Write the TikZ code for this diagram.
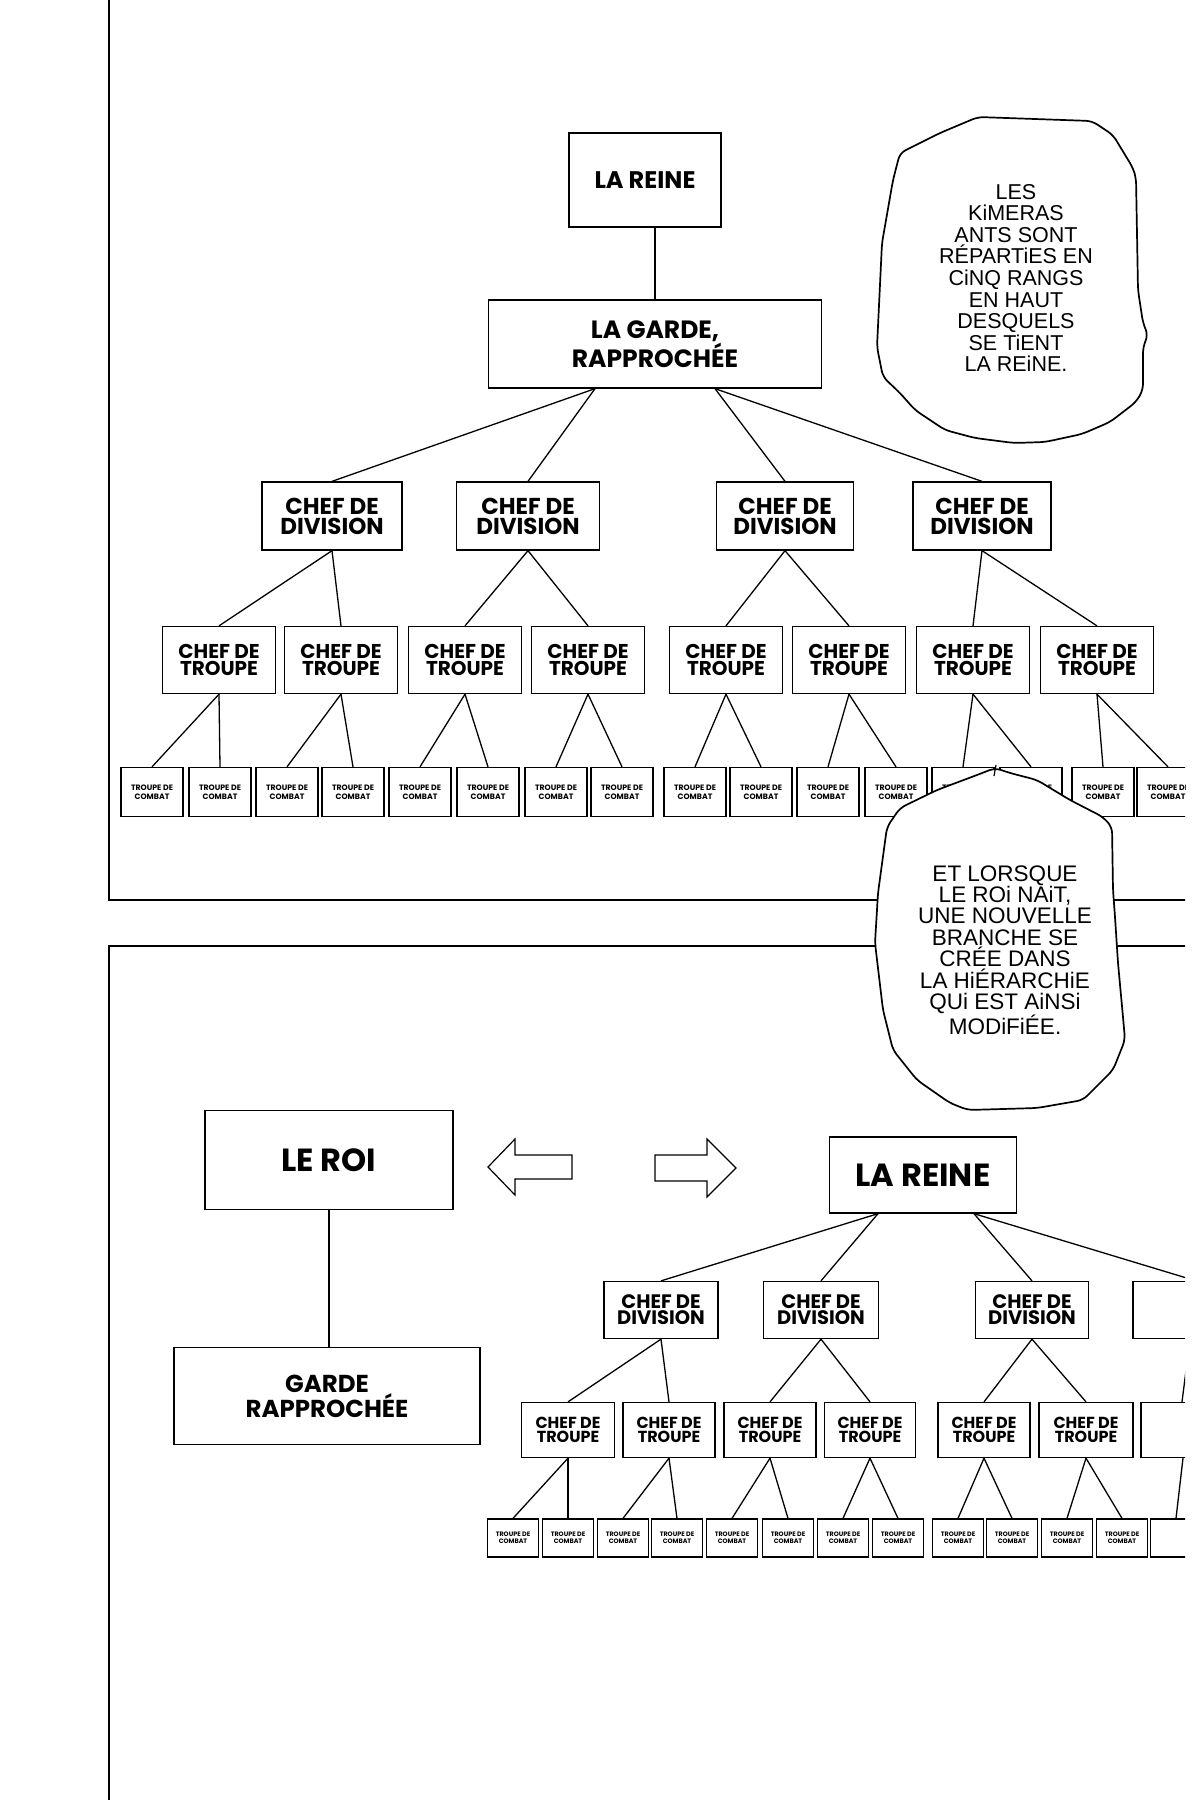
\documentclass[tikz,border=0pt]{standalone}
\usepackage{fontspec}
\setmainfont{Liberation Sans}
\newfontfamily\boxfont{Poppins}
\usetikzlibrary{calc}
\tikzset{
  bx/.style={draw, line width=1.3pt, fill=white, inner sep=0pt, align=center},
  sz/.style 2 args={minimum width=#1pt, minimum height=#2pt},
  link/.style={line width=1.3pt},
  frame/.style={line width=1.7pt},
  bubble/.style={draw, line width=1.7pt, fill=white, rounded corners=6pt},
  btextA/.style={align=center, inner sep=0pt, font=\fontsize{21.5}{21.6}\selectfont},
  btextB/.style={align=center, inner sep=0pt, font=\fontsize{22.5}{21.4}\selectfont},
  hollow/.style={draw, line width=1.2pt, fill=white},
  fA/.style={font=\boxfont\bfseries\fontsize{24}{22}\selectfont},
  fB/.style={font=\boxfont\bfseries\fontsize{25}{20.5}\selectfont},
  fC/.style={font=\boxfont\bfseries\fontsize{23}{20}\selectfont},
  fD/.style={font=\boxfont\bfseries\fontsize{20}{16.5}\selectfont},
  fE/.style={font=\boxfont\bfseries\fontsize{7.8}{8.5}\selectfont},
  gA/.style={font=\boxfont\bfseries\fontsize{32}{26}\selectfont},
  gB/.style={font=\boxfont\bfseries\fontsize{24.5}{20.5}\selectfont},
  gC/.style={font=\boxfont\bfseries\fontsize{19.5}{16}\selectfont},
  gD/.style={font=\boxfont\bfseries\fontsize{16}{13.5}\selectfont},
  gE/.style={font=\boxfont\bfseries\fontsize{6.4}{7}\selectfont},
}
\begin{document}
\begin{tikzpicture}[x=1pt,y=-1pt]
\useasboundingbox[fill=white] (0,0) rectangle (1200,1800);
\begin{scope}
\clip (0,-5) rectangle (1185,1805);
% panel frames
\draw[frame] (109,-5) -- (109,900) -- (1190,900);
\draw[frame] (1190,946) -- (109,946) -- (109,1805);

% ===== upper panel tree =====
\node[bx, sz={152}{94}, fA] (ureine) at (645,180) {LA REINE};
\node[bx, sz={333}{88}, fB] (ugarde) at (655,344) {LA GARDE,\\RAPPROCH\'EE};
\node[bx, sz={140}{68}, fC] (ud1) at (332,516) {CHEF DE\\DIVISION};
\node[bx, sz={143}{68}, fC] (ud2) at (528,516) {CHEF DE\\DIVISION};
\node[bx, sz={137}{68}, fC] (ud3) at (785,516) {CHEF DE\\DIVISION};
\node[bx, sz={138}{68}, fC] (ud4) at (982,516) {CHEF DE\\DIVISION};
\foreach \i/\x in {1/219,2/341,3/465,4/588,5/726,6/849,7/973,8/1097}
  \node[bx, sz={113}{67}, fD] (ut\i) at (\x,660) {CHEF DE\\TROUPE};
\foreach \i/\x in {1/152,2/220,3/287,4/353,5/420,6/488,7/556,8/622,9/695,10/761,11/828,12/896,13/963,14/1031,15/1103,16/1168}
  \node[bx, sz={62}{49}, fE] (uc\i) at (\x,792) {TROUPE DE\\COMBAT};

\draw[link] (ugarde.north |- ureine.south) -- (ugarde.north);
\draw[link] ([xshift=-60pt]ugarde.south) -- (ud1.north);
\draw[link] ([xshift=-60pt]ugarde.south) -- (ud2.north);
\draw[link] ([xshift=60pt]ugarde.south) -- (ud3.north);
\draw[link] ([xshift=60pt]ugarde.south) -- (ud4.north);
\foreach \d/\a/\b in {1/1/2,2/3/4,3/5/6,4/7/8}{
  \draw[link] (ud\d.south) -- (ut\a.north);
  \draw[link] (ud\d.south) -- (ut\b.north);}
\foreach \t/\a/\b in {1/1/2,2/3/4,3/5/6,4/7/8,5/9/10,6/11/12,7/13/14,8/15/16}{
  \draw[link] (ut\t.south) -- (uc\a.north);
  \draw[link] (ut\t.south) -- (uc\b.north);}

% ===== lower panel =====
\node[bx, sz={248}{99}, gA] (roi) at (329,1160) {LE ROI};
\node[bx, sz={306}{97}, gB] (lgarde) at (327,1396) {GARDE\\RAPPROCH\'EE};
\draw[link] (roi.south) -- (roi.south |- lgarde.north);

\draw[hollow] (488,1167) -- (515,1139) -- (515,1155) -- (572,1155) -- (572,1179) -- (515,1179) -- (515,1195) -- cycle;
\draw[hollow] (736,1168) -- (707,1139) -- (707,1155) -- (655,1155) -- (655,1181) -- (707,1181) -- (707,1197) -- cycle;

\node[bx, sz={187}{76}, gA] (lreine) at (923,1175) {LA REINE};
\node[bx, sz={114}{57}, gC] (ld1) at (661,1310) {CHEF DE\\DIVISION};
\node[bx, sz={115}{57}, gC] (ld2) at (821,1310) {CHEF DE\\DIVISION};
\node[bx, sz={113}{57}, gC] (ld3) at (1032,1310) {CHEF DE\\DIVISION};
\node[bx, sz={114}{57}] (ld4) at (1190,1310) {};
\foreach \i/\x/\w in {1/568/93,2/669/92,3/770/92,4/870/91,5/984/92,6/1086/94}
  \node[bx, sz={\w}{55}, gD] (lt\i) at (\x,1430) {CHEF DE\\TROUPE};
\node[bx, sz={94}{55}] (lt7) at (1188,1430) {};
\foreach \i/\x in {1/513,2/568,3/623,4/677,5/732,6/788,7/843,8/898,9/958,10/1012,11/1067,12/1122}
  \node[bx, sz={51}{38}, gE] (lc\i) at (\x,1538) {TROUPE DE\\COMBAT};
\node[bx, sz={51}{38}] (lc13) at (1176,1538) {};

\draw[link] ([xshift=-45pt]lreine.south) -- (ld1.north);
\draw[link] ([xshift=-45pt]lreine.south) -- (ld2.north);
\draw[link] ([xshift=51pt]lreine.south) -- (ld3.north);
\draw[link] ([xshift=51pt]lreine.south) -- ([xshift=6pt]ld4.north);
\foreach \d/\a/\b in {1/1/2,2/3/4,3/5/6}{
  \draw[link] (ld\d.south) -- (lt\a.north);
  \draw[link] (ld\d.south) -- (lt\b.north);}
\draw[link] (ld4.south) -- ([xshift=-6pt]lt7.north);
\foreach \t/\a/\b in {1/1/2,2/3/4,3/5/6,4/7/8,5/9/10,6/11/12}{
  \draw[link] (lt\t.south) -- (lc\a.north);
  \draw[link] (lt\t.south) -- (lc\b.north);}
\draw[link] ([xshift=-5pt]lt7.south) -- (lc13.north);

% ===== speech bubbles =====
\draw[bubble] (978,117) -- (1092,121) -- (1113,135) -- (1133,168) -- (1136,178) -- (1138,290) -- (1143,323) -- (1148,335) -- (1143,347) -- (1143,390) -- (1136,402) -- (1110,422) -- (1082,434) -- (1045,442) -- (1014,443) -- (975,438) -- (945,430) -- (915,410) -- (900,393) -- (883,377) -- (877,347) -- (882,243) -- (893,180) -- (900,153) -- (940,133) -- cycle;
\node[btextA] (say1) at (1016,278) {LES\\KiMERAS\\ANTS SONT\\R\'EPARTiES EN\\CiNQ RANGS\\EN HAUT\\DESQUELS\\SE TiENT\\LA REiNE.};

\draw[bubble] (995,768) -- (1010,773) -- (1037,780) -- (1070,800) -- (1103,817) -- (1112,827) -- (1113,890) -- (1115,917) -- (1118,963) -- (1123,1017) -- (1125,1040) -- (1113,1070) -- (1083,1100) -- (1037,1108) -- (968,1110) -- (950,1103) -- (917,1080) -- (893,1050) -- (883,1010) -- (875,943) -- (878,893) -- (887,827) -- (900,808) -- (937,790) -- (977,775) -- cycle;
\draw[line width=1.2pt] (996,765) -- (994,776);
\node[btextB] (say2) at (1005,950) {ET LORSQUE\\LE ROi NAiT,\\UNE NOUVELLE\\BRANCHE SE\\CR\'EE DANS\\LA Hi\'ERARCHiE\\QUi EST AiNSi\\MODiFi\'EE.};
\end{scope}
\end{tikzpicture}
\end{document}
